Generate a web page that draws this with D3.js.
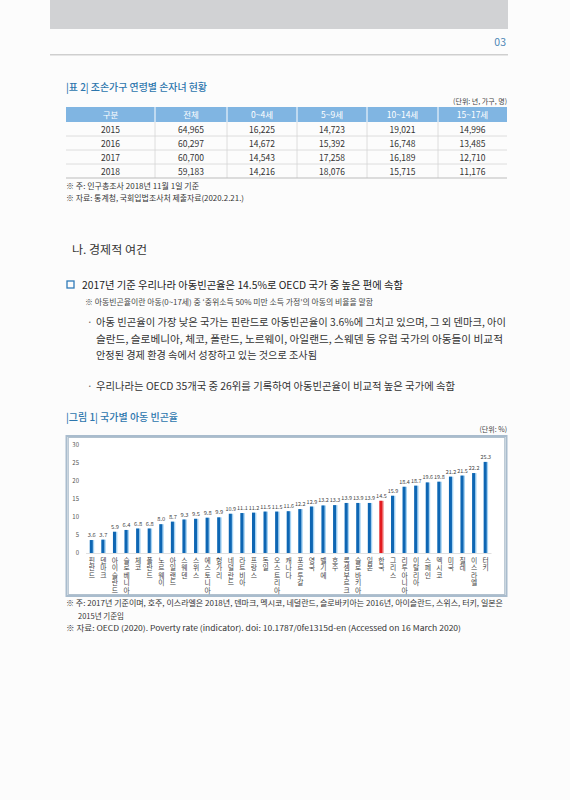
<!DOCTYPE html>
<html><head><meta charset="utf-8">
<script src="https://cdn.jsdelivr.net/npm/d3@7"></script>
<style>
html,body{margin:0;padding:0;background:#fcfcfc;}
svg{display:block;font-family:"Noto Sans CJK KR","Noto Sans",sans-serif;}
</style></head><body>
<svg id="page" width="570" height="800"></svg>
<script>
// ---------- data ----------
const tableColumns = ["구분","전체","0~4세","5~9세","10~14세","15~17세"];
const tableYears = ["2015","2016","2017","2018"];
const tableTotal = ["64,965","60,297","60,700","59,183"];
const tableAge0_4 = ["16,225","14,672","14,543","14,216"];
const tableAge5_9 = ["14,723","15,392","17,258","18,076"];
const tableAge10_14 = ["19,021","16,748","16,189","15,715"];
const tableAge15_17 = ["14,996","13,485","12,710","11,176"];

const countries = ["핀란드","덴마크","아이슬란드","슬로베니아","체코","폴란드","노르웨이","아일랜드","스웨덴","스위스","에스토니아","헝가리","네덜란드","라트비아","프랑스","독일","오스트리아","캐나다","포르투갈","영국","벨기에","호주","룩셈부르크","슬로바키아","일본","한국","그리스","리투아니아","이탈리아","스페인","멕시코","미국","칠레","이스라엘","터키"];
const povertyRates = [3.6,3.7,5.9,6.4,6.8,6.8,8.0,8.7,9.3,9.5,9.8,9.9,10.9,11.1,11.2,11.5,11.5,11.6,12.2,12.9,13.2,13.3,13.9,13.9,13.9,14.5,15.9,18.4,18.7,19.6,19.8,21.2,21.5,22.2,25.3];
const highlightCountry = "한국";
const yTicks = [0,5,10,15,20,25,30];

const pageNumber = "03";
const tableTitle = "|표 2| 조손가구 연령별 손자녀 현황";
const tableUnit = "(단위: 년, 가구, 명)";
const tableNotes = ["※ 주: 인구총조사 2018년 11월 1일 기준","※ 자료: 통계청, 국회입법조사처 제출자료(2020.2.21.)"];
const sectionTitle = "나. 경제적 여건";
const headline = "2017년 기준 우리나라 아동빈곤율은 14.5%로 OECD 국가 중 높은 편에 속함";
const headlineNote = "※ 아동빈곤율이란 아동(0~17세) 중 ‘중위소득 50% 미만 소득 가정’의 아동의 비율을 말함";
const bullet1Lines = ["아동 빈곤율이 가장 낮은 국가는 핀란드로 아동빈곤율이 3.6%에 그치고 있으며, 그 외 덴마크, 아이","슬란드, 슬로베니아, 체코, 폴란드, 노르웨이, 아일랜드, 스웨덴 등 유럽 국가의 아동들이 비교적","안정된 경제 환경 속에서 성장하고 있는 것으로 조사됨"];
const bullet2Lines = ["우리나라는 OECD 35개국 중 26위를 기록하여 아동빈곤율이 비교적 높은 국가에 속함"];
const figureTitle = "|그림 1| 국가별 아동 빈곤율";
const figureUnit = "(단위: %)";
const figureNotes = ["※ 주: 2017년 기준이며, 호주, 이스라엘은 2018년, 덴마크, 멕시코, 네덜란드, 슬로바키아는 2016년, 아이슬란드, 스위스, 터키, 일본은","2015년 기준임","※ 자료: OECD (2020). Poverty rate (indicator). doi: 10.1787/0fe1315d-en (Accessed on 16 March 2020)"];

// ---------- helpers ----------
const svg = d3.select("#page");
function txt(x, y, s, size, fill, opts = {}) {
  const t = svg.append("text").attr("x", x).attr("y", y).attr("font-size", size)
    .attr("fill", fill).text(s);
  if (opts.anchor) t.attr("text-anchor", opts.anchor);
  if (opts.weight) t.attr("font-weight", opts.weight);
  if (opts.len) t.attr("textLength", opts.len).attr("lengthAdjust", "spacingAndGlyphs");
  return t;
}

// ---------- page header ----------
svg.append("rect").attr("x", 50).attr("y", 0).attr("width", 458).attr("height", 29).attr("fill", "#d1d2d4");
txt(506, 46, pageNumber, 10.5, "#4d86b5", {anchor: "end"});
svg.append("rect").attr("x", 50).attr("y", 54).attr("width", 458).attr("height", 1.5).attr("fill", "#cfcfcf");

// ---------- table ----------
txt(66, 91, tableTitle, 10, "#2d76ad", {weight: 500, len: 141});
txt(507, 104, tableUnit, 7, "#444", {anchor: "end"});
const colEdges = [66, 155, 227, 297, 367, 438, 507];
const headerTop = 107, headerH = 15, rowH = 14;
svg.append("rect").attr("x", 66).attr("y", headerTop).attr("width", 441).attr("height", headerH).attr("fill", "#80b5e2");
const tableRows = tableYears.map((y, i) => [y, tableTotal[i], tableAge0_4[i], tableAge5_9[i], tableAge10_14[i], tableAge15_17[i]]);
colEdges.slice(1, -1).forEach(x => {
  svg.append("line").attr("x1", x).attr("x2", x).attr("y1", headerTop).attr("y2", headerTop + headerH).attr("stroke", "#fff").attr("stroke-width", 1);
  svg.append("line").attr("x1", x).attr("x2", x).attr("y1", headerTop + headerH).attr("y2", headerTop + headerH + rowH * 4).attr("stroke", "#d6d6d6").attr("stroke-width", 0.8);
});
tableColumns.forEach((c, j) => txt((colEdges[j] + colEdges[j + 1]) / 2, headerTop + 11, c, 8.5, "#fff", {anchor: "middle"}));
tableRows.forEach((r, i) => {
  const top = headerTop + headerH + i * rowH;
  svg.append("line").attr("x1", 66).attr("x2", 507).attr("y1", top + rowH).attr("y2", top + rowH)
    .attr("stroke", i === 3 ? "#bcbcbc" : "#d6d6d6").attr("stroke-width", i === 3 ? 1 : 0.8);
  r.forEach((v, j) => txt((colEdges[j] + colEdges[j + 1]) / 2, top + 10.5, v, 8.5, "#333", {anchor: "middle"}));
});
txt(66, 189, tableNotes[0], 7.5, "#333", {len: 133});
txt(66, 201, tableNotes[1], 7.5, "#333", {len: 178});

// ---------- text section ----------
txt(72, 254, sectionTitle, 11.5, "#333", {len: 75});
svg.append("rect").attr("x", 67).attr("y", 281).attr("width", 7).attr("height", 7).attr("fill", "none").attr("stroke", "#2f7ab8").attr("stroke-width", 1.3);
txt(82, 289, headline, 10.5, "#222", {len: 321});
txt(85, 305, headlineNote, 7.5, "#444", {len: 288});
txt(87, 326, "·", 10, "#666");
const b1Len = [410, 407, 221];
bullet1Lines.forEach((l, i) => txt(96, 326 + i * 16.6, l, 10, "#333", {len: b1Len[i]}));
txt(87, 390, "·", 10, "#666");
txt(96, 390, bullet2Lines[0], 10, "#333", {len: 359});

// ---------- figure ----------
txt(66, 421, figureTitle, 10, "#2d76ad", {weight: 500, len: 112});
txt(507, 432, figureUnit, 7, "#444", {anchor: "end"});
svg.append("rect").attr("x", 66.5).attr("y", 436).attr("width", 440).attr("height", 160)
  .attr("fill", "#fff").attr("stroke", "#a9bccd").attr("stroke-width", 2);
svg.append("rect").attr("x", 68.2).attr("y", 437.7).attr("width", 436.6).attr("height", 156.6)
  .attr("fill", "none").attr("stroke", "#7f98ae").attr("stroke-width", 0.6);

const x = d3.scaleBand().domain(countries).range([86, 491.5]).paddingInner(0).paddingOuter(0);
const y = d3.scaleLinear().domain([0, 30]).range([553, 445]);

const yAxis = svg.append("g").attr("transform", "translate(80,0)")
  .call(d3.axisLeft(y).tickValues(yTicks).tickSize(0).tickPadding(1).tickFormat(d3.format("d")));
yAxis.select(".domain").remove();
yAxis.selectAll("text").attr("font-size", 6).attr("fill", "#555").attr("font-family", "'Noto Sans CJK KR',sans-serif");

svg.append("line").attr("x1", 86).attr("x2", 491.5).attr("y1", y(0) + 0.5).attr("y2", y(0) + 0.5)
  .attr("stroke", "#d8d8d8").attr("stroke-width", 0.8);

const data = countries.map((c, i) => ({c, v: povertyRates[i]}));
const cx = d => x(d.c) + x.bandwidth() / 2;
const bars = svg.append("g");
bars.selectAll("rect.halo").data(data).join("rect").attr("class", "halo")
  .attr("x", d => cx(d) - 2).attr("width", 4.4)
  .attr("y", d => y(d.v)).attr("height", d => y(0) - y(d.v))
  .attr("fill", d => d.c === highlightCountry ? "#f2a3a3" : "#a6d3f3");
bars.selectAll("rect.core").data(data).join("rect").attr("class", "core")
  .attr("x", d => cx(d) - 2).attr("width", 3)
  .attr("y", d => y(d.v)).attr("height", d => y(0) - y(d.v))
  .attr("fill", d => d.c === highlightCountry ? "#e31b1f" : "#0e66b3");

svg.append("g").selectAll("text").data(data).join("text")
  .attr("x", d => cx(d)).attr("y", d => y(d.v) - 3)
  .attr("text-anchor", "middle").attr("font-size", 5.4).attr("fill", "#444")
  .attr("textLength", d => d3.format(".1f")(d.v).length > 3 ? 10.6 : 8)
  .attr("lengthAdjust", "spacingAndGlyphs")
  .text(d => d3.format(".1f")(d.v));

// vertical country labels (upright characters stacked top to bottom)
svg.append("g").selectAll("text").data(data).join("text")
  .attr("x", d => cx(d)).attr("y", 557)
  .attr("font-size", 6.8).attr("fill", "#444")
  .style("writing-mode", "vertical-rl").style("text-orientation", "upright")
  .style("letter-spacing", "0.7px")
  .text(d => d.c);

txt(66, 606, figureNotes[0], 7.5, "#333", {len: 437});
txt(78, 618.5, figureNotes[1], 7.5, "#333");
txt(66, 631, figureNotes[2], 7.5, "#333", {len: 395});
</script>
</body></html>
